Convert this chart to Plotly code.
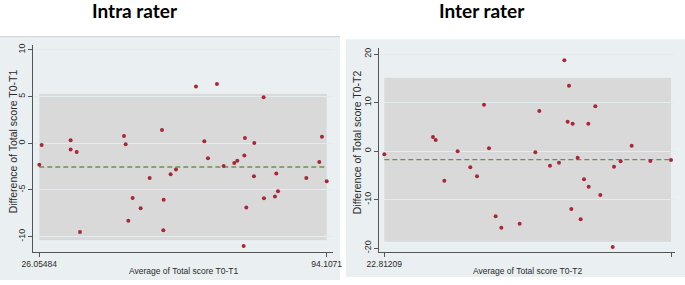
import plotly.graph_objects as go

# ---------------- data ----------------
intra_avg = [26.05484, 26.61, 33.47, 33.47, 34.90, 35.68, 46.10, 46.50, 47.13, 48.15,
             50.05, 52.18, 55.10, 55.50, 55.42, 57.15, 58.41, 63.15, 65.12, 65.99,
             68.12, 69.70, 72.22, 72.94, 74.60, 74.75, 75.07, 74.44, 76.96, 76.88,
             79.17, 79.25, 81.85, 82.17, 82.57, 89.28, 92.35, 92.98, 94.1071]
intra_diff = [-2.29, -0.18, 0.32, -0.68, -0.93, -9.50, 0.79, -0.11, -8.29, -5.86,
              -6.96, -3.71, 1.43, -6.04, -9.32, -3.32, -2.82, 6.07, 0.21, -1.61,
              6.36, -2.43, -2.11, -1.86, -1.32, 0.57, -6.89, -11.00, 0.04, -3.54,
              4.93, -5.89, -5.71, -3.25, -5.14, -3.71, -2.00, 0.71, -4.07]
intra_mean = -2.55
intra_upper = 5.30
intra_lower = -10.40
intra_xticks = ["26.05484", "94.1071"]
intra_yticks = [-10, -5, 0, 5, 10]

inter_avg = [22.81209, 34.39, 35.03, 37.09, 40.26, 43.27, 44.86, 46.53, 47.72, 49.30,
             50.65, 55.01, 58.74, 59.69, 62.23, 64.37, 65.64, 66.43, 66.75, 67.30,
             67.62, 68.81, 69.52, 70.32, 71.35, 71.43, 73.01, 74.20, 77.14, 77.46,
             79.04, 81.66, 86.10, 91.0224]
inter_diff = [-0.69, 2.89, 2.27, -6.12, -0.07, -3.37, -5.22, 9.55, 0.55, -13.47,
              -15.81, -14.98, -0.27, 8.25, -3.02, -2.41, 18.69, 6.05, 13.47, -11.96,
              5.64, -1.37, -14.09, -5.84, 5.64, -7.35, 9.21, -9.07, -19.79, -3.23,
              -2.13, 1.10, -2.06, -1.86]
inter_mean = -1.78
inter_upper = 15.12
inter_lower = -18.69
inter_xticks = ["22.81209", "91.0224"]
inter_yticks = [-20, -10, 0, 10, 20]

titles = ["Intra rater", "Inter rater"]
xtitles = ["Average of Total score T0-T1", "Average of Total score T0-T2"]
ytitles = ["Difference of Total score T0-T1", "Difference of Total score T0-T2"]

# ---------------- layout helpers ----------------
W, H = 685, 285
def fx(p):
    return p / W
def fy(p):
    return 1 - p / H

BG = "#EAF0F2"
BAND = "#D9D9D9"
DOT = "#A8283A"
MEANC = "#6F8F52"
AX = "#555555"
TXT = "#2a2a2a"

fig = go.Figure()

panels = [
    dict(avg=intra_avg, diff=intra_diff, mean=intra_mean, up=intra_upper, lo=intra_lower,
         xt=intra_xticks, yt=intra_yticks, xa="x", ya="y",
         plot=(33.3, 333.0, 45.0, 252.0), xr=[24.63, 95.60], yr=[-11.65, 10.53],
         outer=(0, 340, 36.7, 280), title_x=135, ytitle_x=13.3, ytitle_y=141, xtitle_y=270.7),
    dict(avg=inter_avg, diff=inter_diff, mean=inter_mean, up=inter_upper, lo=inter_lower,
         xt=inter_xticks, yt=inter_yticks, xa="x2", ya="y2",
         plot=(379.3, 675.0, 48.0, 251.7), xr=[21.62, 91.97], yr=[-20.76, 21.24],
         outer=(346, 685, 39.3, 277), title_x=481.5, ytitle_x=356.7, ytitle_y=142.5, xtitle_y=270.7),
]

shapes = []
annotations = []
for i, p in enumerate(panels):
    x0, x1, y0, y1 = p["plot"]
    xmin, xmax = min(p["avg"]), max(p["avg"])
    ox0, ox1, oy0, oy1 = p["outer"]
    shapes.append(dict(type="rect", xref="paper", yref="paper",
                       x0=fx(ox0), x1=fx(ox1), y0=fy(oy1), y1=fy(oy0),
                       fillcolor=BG, line=dict(width=0), layer="below"))
    shapes.append(dict(type="rect", xref=p["xa"], yref=p["ya"],
                       x0=xmin, x1=xmax, y0=p["lo"], y1=p["up"],
                       fillcolor=BAND, line=dict(width=0), layer="below"))
    fig.add_trace(go.Scatter(x=[xmin, xmax], y=[p["mean"], p["mean"]], mode="lines",
                             line=dict(color=MEANC, width=1.4, dash="5px,3px"),
                             xaxis=p["xa"], yaxis=p["ya"], showlegend=False, hoverinfo="skip"))
    fig.add_trace(go.Scatter(x=p["avg"], y=p["diff"], mode="markers",
                             marker=dict(color=DOT, size=4, line=dict(width=0)),
                             xaxis=p["xa"], yaxis=p["ya"], showlegend=False))
    axis_common = dict(showline=True, linecolor=AX, linewidth=1, ticks="outside",
                       ticklen=4, tickcolor=AX, zeroline=False, mirror=False, automargin=False)
    xkey = "xaxis" if i == 0 else "xaxis2"
    ykey = "yaxis" if i == 0 else "yaxis2"
    fig.layout[xkey] = dict(domain=[fx(x0), fx(x1)], range=p["xr"], anchor=p["ya"],
                            tickvals=[xmin, xmax], ticktext=p["xt"], showgrid=False,
                            tickfont=dict(family="Liberation Sans, Arial", size=8.5, color=TXT),
                            **axis_common)
    fig.layout[ykey] = dict(domain=[fy(y1), fy(y0)], range=p["yr"], anchor=p["xa"],
                            tickvals=p["yt"], ticktext=[str(v) for v in p["yt"]],
                            tickangle=-90, showgrid=True, gridcolor="#E4ECEE", gridwidth=1,
                            tickfont=dict(family="Liberation Sans, Arial", size=9, color=TXT),
                            **axis_common)
    annotations.append(dict(text="<b>%s</b>" % titles[i], xref="paper", yref="paper",
                            x=fx(p["title_x"]), y=fy(10), xanchor="center", yanchor="middle",
                            showarrow=False,
                            font=dict(family="Lato, Liberation Sans", size=19, color="#000000")))
    annotations.append(dict(text=xtitles[i], xref="paper", yref="paper",
                            x=fx((x0 + x1) / 2), y=fy(p["xtitle_y"]), xanchor="center",
                            yanchor="middle", showarrow=False,
                            font=dict(family="Liberation Sans, Arial", size=8.5, color=TXT)))
    annotations.append(dict(text=ytitles[i], xref="paper", yref="paper", textangle=-90,
                            x=fx(p["ytitle_x"]), y=fy(p["ytitle_y"]), xanchor="center",
                            yanchor="middle", showarrow=False,
                            font=dict(family="Liberation Sans, Arial", size=10.5, color=TXT)))

shapes.append(dict(type="line", xref="paper", yref="paper", x0=fx(0), x1=fx(340),
                   y0=fy(36.7), y1=fy(36.7), line=dict(color="#C9CED0", width=1), layer="below"))

fig.update_layout(width=W, height=H, margin=dict(l=0, r=0, t=0, b=0, autoexpand=False),
                  paper_bgcolor="white", plot_bgcolor="white",
                  shapes=shapes, annotations=annotations, showlegend=False)

fig.write_html("out.html", config={"displayModeBar": False},
               post_script="document.body.style.margin='0';document.body.style.overflow='hidden';")
